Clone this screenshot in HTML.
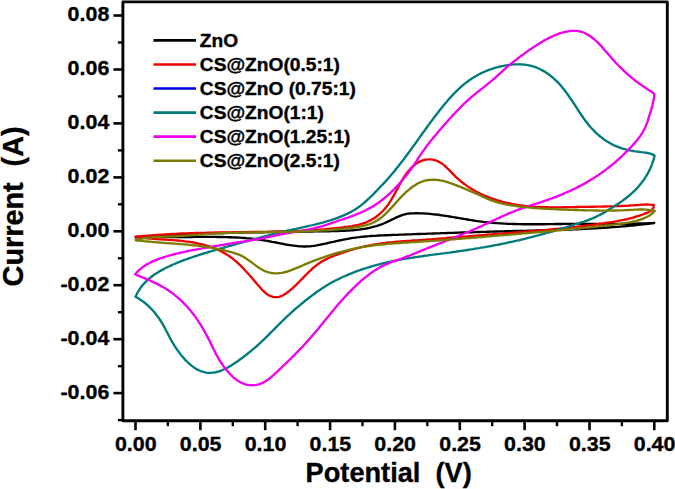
<!DOCTYPE html>
<html><head><meta charset="utf-8"><style>
html,body{margin:0;padding:0;background:#fff;}
svg{display:block;}
text{font-family:"Liberation Sans",sans-serif;font-weight:bold;fill:#000;stroke:#000;stroke-width:0.35px;}
.tl{font-size:21px;}
.lg{font-size:17.5px;}
.ax{font-size:27.2px;}
.ax2{font-size:28.8px;}
</style></head><body>
<svg width="675" height="489" viewBox="0 0 675 489">
<rect x="122.9" y="1.9" width="544.4" height="418.8" fill="none" stroke="#000" stroke-width="2.9" stroke-linejoin="round"/>
<line x1="113.4" y1="393.1" x2="122.9" y2="393.1" stroke="#000" stroke-width="2.6"/>
<text transform="translate(109.3,398.8) scale(1.02,1)" text-anchor="end" class="tl">-0.06</text>
<line x1="113.4" y1="339.2" x2="122.9" y2="339.2" stroke="#000" stroke-width="2.6"/>
<text transform="translate(109.3,344.8) scale(1.02,1)" text-anchor="end" class="tl">-0.04</text>
<line x1="113.4" y1="285.2" x2="122.9" y2="285.2" stroke="#000" stroke-width="2.6"/>
<text transform="translate(109.3,290.9) scale(1.02,1)" text-anchor="end" class="tl">-0.02</text>
<line x1="113.4" y1="231.3" x2="122.9" y2="231.3" stroke="#000" stroke-width="2.6"/>
<text transform="translate(109.3,236.9) scale(1.02,1)" text-anchor="end" class="tl">0.00</text>
<line x1="113.4" y1="177.4" x2="122.9" y2="177.4" stroke="#000" stroke-width="2.6"/>
<text transform="translate(109.3,183.0) scale(1.02,1)" text-anchor="end" class="tl">0.02</text>
<line x1="113.4" y1="123.4" x2="122.9" y2="123.4" stroke="#000" stroke-width="2.6"/>
<text transform="translate(109.3,129.0) scale(1.02,1)" text-anchor="end" class="tl">0.04</text>
<line x1="113.4" y1="69.5" x2="122.9" y2="69.5" stroke="#000" stroke-width="2.6"/>
<text transform="translate(109.3,75.1) scale(1.02,1)" text-anchor="end" class="tl">0.06</text>
<line x1="113.4" y1="15.5" x2="122.9" y2="15.5" stroke="#000" stroke-width="2.6"/>
<text transform="translate(109.3,21.1) scale(1.02,1)" text-anchor="end" class="tl">0.08</text>
<line x1="117.9" y1="420.1" x2="122.9" y2="420.1" stroke="#000" stroke-width="2.4"/>
<line x1="117.9" y1="366.2" x2="122.9" y2="366.2" stroke="#000" stroke-width="2.4"/>
<line x1="117.9" y1="312.2" x2="122.9" y2="312.2" stroke="#000" stroke-width="2.4"/>
<line x1="117.9" y1="258.3" x2="122.9" y2="258.3" stroke="#000" stroke-width="2.4"/>
<line x1="117.9" y1="204.3" x2="122.9" y2="204.3" stroke="#000" stroke-width="2.4"/>
<line x1="117.9" y1="150.4" x2="122.9" y2="150.4" stroke="#000" stroke-width="2.4"/>
<line x1="117.9" y1="96.4" x2="122.9" y2="96.4" stroke="#000" stroke-width="2.4"/>
<line x1="117.9" y1="42.5" x2="122.9" y2="42.5" stroke="#000" stroke-width="2.4"/>
<line x1="135.5" y1="420.7" x2="135.5" y2="430.2" stroke="#000" stroke-width="2.6"/>
<text transform="translate(135.8,451.2) scale(1.02,1)" text-anchor="middle" class="tl">0.00</text>
<line x1="200.4" y1="420.7" x2="200.4" y2="430.2" stroke="#000" stroke-width="2.6"/>
<text transform="translate(200.7,451.2) scale(1.02,1)" text-anchor="middle" class="tl">0.05</text>
<line x1="265.2" y1="420.7" x2="265.2" y2="430.2" stroke="#000" stroke-width="2.6"/>
<text transform="translate(265.5,451.2) scale(1.02,1)" text-anchor="middle" class="tl">0.10</text>
<line x1="330.1" y1="420.7" x2="330.1" y2="430.2" stroke="#000" stroke-width="2.6"/>
<text transform="translate(330.4,451.2) scale(1.02,1)" text-anchor="middle" class="tl">0.15</text>
<line x1="394.9" y1="420.7" x2="394.9" y2="430.2" stroke="#000" stroke-width="2.6"/>
<text transform="translate(395.2,451.2) scale(1.02,1)" text-anchor="middle" class="tl">0.20</text>
<line x1="459.8" y1="420.7" x2="459.8" y2="430.2" stroke="#000" stroke-width="2.6"/>
<text transform="translate(460.1,451.2) scale(1.02,1)" text-anchor="middle" class="tl">0.25</text>
<line x1="524.6" y1="420.7" x2="524.6" y2="430.2" stroke="#000" stroke-width="2.6"/>
<text transform="translate(524.9,451.2) scale(1.02,1)" text-anchor="middle" class="tl">0.30</text>
<line x1="589.5" y1="420.7" x2="589.5" y2="430.2" stroke="#000" stroke-width="2.6"/>
<text transform="translate(589.8,451.2) scale(1.02,1)" text-anchor="middle" class="tl">0.35</text>
<line x1="654.3" y1="420.7" x2="654.3" y2="430.2" stroke="#000" stroke-width="2.6"/>
<text transform="translate(654.6,451.2) scale(1.02,1)" text-anchor="middle" class="tl">0.40</text>
<line x1="167.9" y1="420.7" x2="167.9" y2="426.2" stroke="#000" stroke-width="2.4"/>
<line x1="232.8" y1="420.7" x2="232.8" y2="426.2" stroke="#000" stroke-width="2.4"/>
<line x1="297.6" y1="420.7" x2="297.6" y2="426.2" stroke="#000" stroke-width="2.4"/>
<line x1="362.5" y1="420.7" x2="362.5" y2="426.2" stroke="#000" stroke-width="2.4"/>
<line x1="427.3" y1="420.7" x2="427.3" y2="426.2" stroke="#000" stroke-width="2.4"/>
<line x1="492.2" y1="420.7" x2="492.2" y2="426.2" stroke="#000" stroke-width="2.4"/>
<line x1="557.0" y1="420.7" x2="557.0" y2="426.2" stroke="#000" stroke-width="2.4"/>
<line x1="621.9" y1="420.7" x2="621.9" y2="426.2" stroke="#000" stroke-width="2.4"/>
<path d="M135.6,237.2 L137.6,237.0 L139.6,236.9 L141.6,236.7 L143.6,236.6 L145.6,236.5 L147.6,236.3 L149.7,236.2 L151.7,236.1 L153.7,235.9 L155.7,235.8 L157.7,235.7 L159.7,235.6 L161.7,235.4 L163.7,235.3 L165.7,235.2 L167.7,235.1 L169.7,235.0 L171.7,234.9 L173.7,234.8 L175.7,234.7 L177.7,234.6 L179.8,234.5 L181.8,234.4 L183.8,234.3 L185.8,234.2 L187.8,234.2 L189.8,234.1 L191.8,234.0 L193.8,233.9 L195.8,233.8 L197.8,233.8 L199.8,233.7 L201.8,233.6 L203.8,233.6 L205.8,233.5 L207.8,233.4 L209.8,233.4 L211.9,233.3 L213.9,233.2 L215.9,233.2 L217.9,233.1 L219.9,233.1 L221.9,233.0 L223.9,233.0 L225.9,232.9 L227.9,232.9 L229.9,232.8 L231.9,232.8 L233.9,232.7 L235.9,232.7 L237.9,232.6 L240.0,232.6 L242.0,232.6 L244.0,232.5 L246.0,232.5 L248.0,232.4 L250.0,232.4 L252.0,232.4 L254.0,232.3 L256.0,232.3 L258.0,232.3 L260.0,232.2 L262.0,232.2 L264.1,232.2 L266.1,232.1 L268.1,232.1 L270.1,232.1 L272.1,232.0 L274.1,232.0 L276.1,232.0 L278.1,232.0 L280.1,231.9 L282.1,231.9 L284.2,231.9 L286.2,231.8 L288.2,231.8 L290.2,231.8 L292.2,231.8 L294.2,231.7 L296.2,231.7 L298.2,231.7 L300.3,231.6 L302.3,231.6 L304.3,231.6 L306.3,231.6 L308.3,231.5 L310.3,231.5 L312.3,231.5 L314.3,231.4 L316.4,231.4 L318.4,231.4 L320.4,231.3 L322.4,231.3 L324.4,231.3 L326.4,231.2 L328.5,231.2 L330.5,231.2 L332.5,231.1 L334.5,231.1 L336.5,231.0 L338.5,231.0 L340.5,230.9 L342.6,230.9 L344.6,230.8 L346.6,230.7 L348.6,230.6 L350.6,230.4 L352.6,230.3 L354.6,230.1 L356.5,229.9 L358.5,229.7 L360.5,229.4 L362.5,229.1 L364.4,228.8 L366.4,228.5 L368.3,228.1 L370.3,227.7 L372.2,227.2 L374.1,226.7 L376.0,226.2 L377.9,225.6 L379.8,224.9 L381.7,224.3 L383.6,223.5 L385.4,222.7 L387.3,221.9 L389.1,221.0 L391.0,220.1 L392.8,219.2 L394.6,218.3 L396.5,217.4 L398.3,216.6 L400.2,215.8 L402.1,215.1 L404.0,214.5 L405.9,214.1 L407.8,213.7 L409.8,213.5 L411.8,213.4 L413.8,213.3 L415.8,213.2 L417.8,213.2 L419.7,213.3 L421.7,213.3 L423.7,213.4 L425.7,213.6 L427.7,213.7 L429.7,213.9 L431.7,214.1 L433.7,214.3 L435.7,214.5 L437.7,214.7 L439.7,215.0 L441.7,215.3 L443.7,215.6 L445.6,215.9 L447.6,216.2 L449.6,216.5 L451.6,216.8 L453.6,217.2 L455.6,217.5 L457.6,217.8 L459.6,218.2 L461.6,218.5 L463.6,218.9 L465.6,219.2 L467.5,219.5 L469.5,219.9 L471.5,220.2 L473.5,220.5 L475.5,220.8 L477.5,221.1 L479.5,221.3 L481.5,221.6 L483.5,221.9 L485.5,222.1 L487.5,222.3 L489.5,222.5 L491.5,222.7 L493.5,222.9 L495.5,223.0 L497.5,223.2 L499.5,223.3 L501.5,223.4 L503.5,223.6 L505.5,223.7 L507.5,223.8 L509.5,223.8 L511.5,223.9 L513.5,224.0 L515.5,224.0 L517.6,224.1 L519.6,224.1 L521.6,224.2 L523.6,224.2 L525.6,224.2 L527.6,224.2 L529.6,224.2 L531.6,224.2 L533.6,224.2 L535.6,224.2 L537.6,224.2 L539.6,224.2 L541.7,224.2 L543.7,224.2 L545.7,224.2 L547.7,224.1 L549.7,224.1 L551.7,224.1 L553.7,224.1 L555.7,224.0 L557.7,224.0 L559.8,224.0 L561.8,224.0 L563.8,223.9 L565.8,223.9 L567.8,223.9 L569.8,223.9 L571.8,223.9 L573.8,223.9 L575.8,223.8 L577.8,223.8 L579.9,223.8 L581.9,223.8 L583.9,223.8 L585.9,223.8 L587.9,223.8 L589.9,223.8 L591.9,223.8 L593.9,223.8 L595.9,223.8 L597.9,223.8 L600.0,223.8 L602.0,223.8 L604.0,223.8 L606.0,223.8 L608.0,223.8 L610.0,223.8 L612.0,223.8 L614.0,223.8 L616.0,223.8 L618.0,223.8 L620.0,223.8 L622.1,223.8 L624.1,223.8 L626.1,223.8 L628.1,223.7 L630.1,223.7 L632.1,223.7 L634.1,223.6 L636.1,223.6 L638.1,223.5 L640.1,223.5 L642.1,223.4 L644.2,223.4 L646.2,223.3 L648.2,223.2 L650.2,223.2 L652.2,223.1 L654.2,223.0 L654.2,223.0 L652.2,223.3 L650.2,223.5 L648.2,223.8 L646.2,224.0 L644.2,224.2 L642.2,224.5 L640.2,224.7 L638.2,224.9 L636.2,225.1 L634.2,225.3 L632.2,225.5 L630.2,225.7 L628.2,225.9 L626.2,226.1 L624.2,226.3 L622.2,226.4 L620.2,226.6 L618.2,226.8 L616.2,226.9 L614.2,227.1 L612.2,227.2 L610.2,227.4 L608.2,227.5 L606.2,227.6 L604.2,227.8 L602.2,227.9 L600.2,228.0 L598.2,228.1 L596.2,228.3 L594.2,228.4 L592.1,228.5 L590.1,228.6 L588.1,228.7 L586.1,228.8 L584.1,228.9 L582.1,229.0 L580.1,229.1 L578.1,229.2 L576.1,229.2 L574.1,229.3 L572.1,229.4 L570.1,229.5 L568.1,229.6 L566.0,229.6 L564.0,229.7 L562.0,229.8 L560.0,229.8 L558.0,229.9 L556.0,230.0 L554.0,230.0 L552.0,230.1 L550.0,230.1 L548.0,230.2 L545.9,230.2 L543.9,230.3 L541.9,230.4 L539.9,230.4 L537.9,230.5 L535.9,230.5 L533.9,230.6 L531.9,230.6 L529.9,230.7 L527.9,230.7 L525.8,230.8 L523.8,230.8 L521.8,230.9 L519.8,230.9 L517.8,230.9 L515.8,231.0 L513.8,231.0 L511.8,231.1 L509.8,231.1 L507.8,231.2 L505.7,231.2 L503.7,231.3 L501.7,231.4 L499.7,231.4 L497.7,231.5 L495.7,231.5 L493.7,231.6 L491.7,231.6 L489.7,231.7 L487.7,231.7 L485.6,231.8 L483.6,231.9 L481.6,231.9 L479.6,232.0 L477.6,232.0 L475.6,232.1 L473.6,232.2 L471.6,232.2 L469.6,232.3 L467.6,232.3 L465.6,232.4 L463.6,232.5 L461.5,232.5 L459.5,232.6 L457.5,232.7 L455.5,232.7 L453.5,232.8 L451.5,232.9 L449.5,232.9 L447.5,233.0 L445.5,233.1 L443.5,233.1 L441.5,233.2 L439.5,233.3 L437.4,233.3 L435.4,233.4 L433.4,233.5 L431.4,233.6 L429.4,233.6 L427.4,233.7 L425.4,233.8 L423.4,233.8 L421.4,233.9 L419.4,234.0 L417.4,234.0 L415.3,234.1 L413.3,234.2 L411.3,234.3 L409.3,234.3 L407.3,234.4 L405.3,234.5 L403.3,234.6 L401.3,234.6 L399.3,234.7 L397.3,234.8 L395.2,234.8 L393.2,234.9 L391.2,235.0 L389.2,235.1 L387.2,235.2 L385.2,235.2 L383.2,235.3 L381.2,235.4 L379.2,235.5 L377.2,235.6 L375.2,235.8 L373.1,235.9 L371.1,236.0 L369.1,236.2 L367.1,236.3 L365.1,236.5 L363.1,236.7 L361.2,236.9 L359.2,237.2 L357.2,237.4 L355.2,237.7 L353.2,237.9 L351.2,238.2 L349.2,238.6 L347.3,238.9 L345.3,239.3 L343.3,239.7 L341.3,240.1 L339.4,240.5 L337.4,240.9 L335.4,241.3 L333.4,241.8 L331.5,242.2 L329.5,242.7 L327.5,243.1 L325.5,243.6 L323.5,244.0 L321.6,244.4 L319.6,244.8 L317.6,245.2 L315.6,245.6 L313.6,245.9 L311.6,246.1 L309.6,246.3 L307.6,246.4 L305.6,246.5 L303.7,246.5 L301.7,246.4 L299.7,246.3 L297.7,246.1 L295.7,245.9 L293.8,245.7 L291.8,245.4 L289.8,245.1 L287.8,244.8 L285.8,244.5 L283.9,244.1 L281.9,243.7 L279.9,243.3 L277.9,242.9 L275.9,242.5 L274.0,242.1 L272.0,241.8 L270.0,241.4 L268.0,241.0 L266.0,240.7 L264.0,240.3 L262.0,240.0 L260.1,239.7 L258.1,239.5 L256.1,239.2 L254.1,239.0 L252.1,238.7 L250.1,238.5 L248.1,238.3 L246.1,238.2 L244.1,238.0 L242.1,237.9 L240.1,237.7 L238.1,237.6 L236.1,237.5 L234.1,237.4 L232.1,237.3 L230.1,237.2 L228.1,237.2 L226.1,237.1 L224.1,237.1 L222.1,237.0 L220.1,237.0 L218.1,237.0 L216.0,236.9 L214.0,236.9 L212.0,236.9 L210.0,236.9 L208.0,236.9 L206.0,236.9 L204.0,236.9 L202.0,236.9 L200.0,236.9 L197.9,236.9 L195.9,236.9 L193.9,236.9 L191.9,237.0 L189.9,237.0 L187.9,237.0 L185.9,237.0 L183.9,237.0 L181.8,237.0 L179.8,237.0 L177.8,237.0 L175.8,237.1 L173.8,237.1 L171.8,237.1 L169.8,237.1 L167.8,237.1 L165.7,237.1 L163.7,237.1 L161.7,237.1 L159.7,237.1 L157.7,237.2 L155.7,237.2 L153.7,237.2 L151.7,237.2 L149.7,237.2 L147.6,237.2 L145.6,237.2 L143.6,237.2 L141.6,237.2 L139.6,237.2 L137.6,237.2 L135.6,237.2" fill="none" stroke="#000000" stroke-width="2.35" stroke-linejoin="round" stroke-linecap="round"/>
<path d="M135.6,236.7 L137.6,236.5 L139.6,236.3 L141.6,236.1 L143.6,235.9 L145.6,235.8 L147.6,235.6 L149.6,235.4 L151.6,235.3 L153.6,235.1 L155.6,235.0 L157.6,234.8 L159.6,234.7 L161.6,234.6 L163.6,234.5 L165.6,234.3 L167.6,234.2 L169.6,234.1 L171.6,234.0 L173.6,233.9 L175.6,233.8 L177.6,233.7 L179.6,233.6 L181.6,233.5 L183.6,233.5 L185.7,233.4 L187.7,233.3 L189.7,233.2 L191.7,233.2 L193.7,233.1 L195.7,233.0 L197.7,233.0 L199.7,232.9 L201.7,232.9 L203.7,232.8 L205.7,232.8 L207.7,232.7 L209.8,232.7 L211.8,232.6 L213.8,232.6 L215.8,232.5 L217.8,232.5 L219.8,232.5 L221.8,232.4 L223.8,232.4 L225.8,232.4 L227.8,232.3 L229.8,232.3 L231.9,232.3 L233.9,232.3 L235.9,232.2 L237.9,232.2 L239.9,232.2 L241.9,232.1 L243.9,232.1 L245.9,232.1 L247.9,232.1 L249.9,232.0 L251.9,232.0 L253.9,232.0 L256.0,231.9 L258.0,231.9 L260.0,231.9 L262.0,231.8 L264.0,231.8 L266.0,231.8 L268.0,231.7 L270.0,231.7 L272.0,231.6 L274.0,231.6 L276.0,231.6 L278.0,231.5 L280.0,231.5 L282.0,231.4 L284.0,231.3 L286.0,231.3 L288.0,231.2 L290.0,231.2 L292.0,231.1 L294.0,231.0 L296.0,230.9 L298.0,230.9 L300.0,230.8 L302.0,230.7 L304.1,230.6 L306.1,230.5 L308.1,230.4 L310.1,230.2 L312.1,230.1 L314.1,230.0 L316.1,229.9 L318.1,229.7 L320.1,229.6 L322.1,229.4 L324.1,229.3 L326.1,229.1 L328.1,228.9 L330.1,228.7 L332.1,228.5 L334.1,228.3 L336.1,228.1 L338.1,227.9 L340.1,227.7 L342.1,227.4 L344.1,227.2 L346.2,226.9 L348.2,226.7 L350.2,226.4 L352.2,226.1 L354.1,225.7 L356.1,225.3 L358.1,224.9 L360.0,224.4 L361.9,223.8 L363.8,223.2 L365.7,222.6 L367.5,221.8 L369.3,220.9 L371.1,220.0 L372.8,219.0 L374.5,217.9 L376.2,216.8 L377.8,215.5 L379.4,214.2 L380.9,212.9 L382.3,211.5 L383.7,210.0 L385.0,208.6 L386.3,207.0 L387.5,205.4 L388.7,203.8 L389.8,202.2 L390.8,200.5 L391.8,198.9 L392.8,197.1 L393.8,195.4 L394.8,193.7 L395.7,191.9 L396.6,190.2 L397.6,188.4 L398.5,186.6 L399.5,184.8 L400.5,183.1 L401.5,181.3 L402.5,179.5 L403.6,177.8 L404.8,176.0 L406.0,174.3 L407.2,172.6 L408.5,171.0 L409.9,169.4 L411.3,167.9 L412.7,166.5 L414.3,165.2 L415.8,163.9 L417.5,162.8 L419.2,161.9 L420.9,161.1 L422.8,160.4 L424.6,159.9 L426.6,159.6 L428.5,159.4 L430.5,159.4 L432.5,159.6 L434.4,160.0 L436.2,160.6 L438.0,161.3 L439.7,162.2 L441.4,163.3 L443.0,164.4 L444.5,165.7 L446.0,167.1 L447.5,168.5 L449.0,169.9 L450.5,171.4 L451.9,172.9 L453.4,174.4 L454.8,175.9 L456.3,177.3 L457.8,178.6 L459.3,180.0 L460.9,181.3 L462.4,182.5 L464.0,183.7 L465.6,184.9 L467.2,186.1 L468.8,187.2 L470.5,188.3 L472.2,189.3 L473.9,190.3 L475.6,191.3 L477.4,192.2 L479.2,193.1 L481.0,194.0 L482.8,194.8 L484.6,195.7 L486.5,196.4 L488.3,197.2 L490.2,197.9 L492.1,198.6 L494.0,199.2 L496.0,199.9 L497.9,200.5 L499.8,201.0 L501.8,201.6 L503.7,202.1 L505.7,202.6 L507.6,203.0 L509.6,203.4 L511.6,203.8 L513.6,204.2 L515.5,204.6 L517.5,204.9 L519.5,205.2 L521.5,205.4 L523.5,205.7 L525.5,205.9 L527.5,206.1 L529.4,206.3 L531.4,206.5 L533.4,206.6 L535.4,206.8 L537.4,206.9 L539.4,207.0 L541.4,207.0 L543.4,207.1 L545.4,207.2 L547.5,207.2 L549.5,207.3 L551.5,207.3 L553.5,207.3 L555.5,207.3 L557.5,207.3 L559.5,207.3 L561.5,207.3 L563.5,207.2 L565.5,207.2 L567.6,207.2 L569.6,207.1 L571.6,207.1 L573.6,207.1 L575.6,207.0 L577.6,207.0 L579.6,206.9 L581.6,206.9 L583.6,206.9 L585.7,206.8 L587.7,206.8 L589.7,206.8 L591.7,206.7 L593.7,206.7 L595.7,206.7 L597.7,206.6 L599.7,206.6 L601.7,206.6 L603.7,206.5 L605.7,206.5 L607.7,206.4 L609.7,206.4 L611.7,206.3 L613.7,206.3 L615.7,206.2 L617.7,206.1 L619.7,206.1 L621.8,206.0 L623.8,205.9 L625.8,205.8 L627.8,205.7 L629.8,205.5 L631.8,205.4 L633.8,205.3 L635.8,205.1 L637.8,205.0 L639.8,204.8 L641.8,204.7 L643.8,204.6 L645.8,204.5 L647.8,204.5 L649.8,204.6 L651.8,204.8 L653.8,205.0 L653.8,205.0 L653.7,206.9 L653.0,208.5 L651.8,209.9 L650.3,211.1 L648.6,212.1 L646.7,212.9 L644.8,213.7 L642.8,214.5 L640.9,215.1 L638.9,215.8 L637.0,216.4 L635.0,217.0 L633.1,217.6 L631.1,218.1 L629.2,218.6 L627.2,219.1 L625.2,219.5 L623.3,219.9 L621.3,220.3 L619.3,220.7 L617.4,221.1 L615.4,221.4 L613.4,221.8 L611.4,222.1 L609.5,222.4 L607.5,222.7 L605.5,223.0 L603.5,223.3 L601.5,223.6 L599.6,223.9 L597.6,224.2 L595.6,224.5 L593.6,224.8 L591.6,225.0 L589.6,225.3 L587.6,225.5 L585.6,225.8 L583.6,226.0 L581.7,226.3 L579.7,226.5 L577.7,226.7 L575.7,227.0 L573.7,227.2 L571.7,227.4 L569.7,227.6 L567.7,227.8 L565.7,228.0 L563.7,228.2 L561.7,228.5 L559.7,228.6 L557.6,228.8 L555.6,229.0 L553.6,229.2 L551.6,229.4 L549.6,229.6 L547.6,229.8 L545.6,230.0 L543.6,230.1 L541.6,230.3 L539.6,230.5 L537.6,230.6 L535.6,230.8 L533.6,231.0 L531.6,231.2 L529.5,231.3 L527.5,231.5 L525.5,231.6 L523.5,231.8 L521.5,232.0 L519.5,232.1 L517.5,232.3 L515.5,232.5 L513.5,232.6 L511.5,232.8 L509.5,232.9 L507.5,233.1 L505.4,233.2 L503.4,233.4 L501.4,233.6 L499.4,233.7 L497.4,233.9 L495.4,234.1 L493.4,234.2 L491.4,234.4 L489.4,234.6 L487.4,234.7 L485.4,234.9 L483.4,235.1 L481.4,235.2 L479.4,235.4 L477.4,235.6 L475.4,235.7 L473.4,235.9 L471.4,236.1 L469.4,236.2 L467.4,236.4 L465.4,236.6 L463.4,236.7 L461.4,236.9 L459.4,237.0 L457.4,237.2 L455.4,237.4 L453.4,237.5 L451.4,237.7 L449.4,237.9 L447.4,238.0 L445.4,238.2 L443.4,238.3 L441.4,238.5 L439.4,238.6 L437.4,238.8 L435.4,239.0 L433.4,239.1 L431.3,239.3 L429.3,239.4 L427.3,239.5 L425.3,239.7 L423.3,239.8 L421.3,240.0 L419.3,240.1 L417.3,240.3 L415.3,240.4 L413.2,240.5 L411.2,240.7 L409.2,240.8 L407.2,240.9 L405.2,241.1 L403.2,241.2 L401.2,241.4 L399.2,241.6 L397.2,241.7 L395.1,241.9 L393.1,242.1 L391.1,242.3 L389.1,242.5 L387.1,242.7 L385.1,243.0 L383.1,243.2 L381.1,243.5 L379.2,243.8 L377.2,244.1 L375.2,244.4 L373.2,244.7 L371.2,245.1 L369.3,245.4 L367.3,245.8 L365.3,246.2 L363.4,246.7 L361.4,247.1 L359.5,247.6 L357.5,248.1 L355.6,248.7 L353.7,249.2 L351.7,249.8 L349.8,250.4 L347.9,251.0 L346.0,251.6 L344.1,252.2 L342.2,252.9 L340.3,253.5 L338.4,254.2 L336.5,254.9 L334.7,255.5 L332.8,256.3 L330.9,257.0 L329.1,257.8 L327.2,258.7 L325.4,259.6 L323.6,260.5 L321.9,261.5 L320.2,262.6 L318.6,263.7 L316.9,264.9 L315.4,266.1 L313.8,267.4 L312.3,268.7 L310.9,270.1 L309.4,271.4 L308.0,272.8 L306.6,274.3 L305.1,275.7 L303.7,277.1 L302.3,278.6 L300.9,280.0 L299.5,281.5 L298.1,282.9 L296.7,284.3 L295.2,285.7 L293.7,287.1 L292.2,288.5 L290.7,289.8 L289.1,291.1 L287.5,292.3 L285.9,293.5 L284.2,294.6 L282.5,295.6 L280.6,296.4 L278.7,296.9 L276.7,297.2 L274.7,297.1 L272.7,296.8 L270.8,296.2 L269.0,295.4 L267.4,294.4 L265.8,293.2 L264.3,291.9 L262.9,290.5 L261.5,289.0 L260.2,287.5 L258.8,286.0 L257.5,284.5 L256.2,282.9 L254.8,281.4 L253.5,279.8 L252.2,278.3 L250.9,276.7 L249.5,275.2 L248.2,273.7 L246.8,272.2 L245.4,270.7 L244.1,269.2 L242.7,267.7 L241.3,266.3 L239.8,264.9 L238.4,263.5 L236.9,262.2 L235.4,260.9 L233.9,259.6 L232.3,258.4 L230.7,257.2 L229.1,256.0 L227.5,254.9 L225.8,253.9 L224.1,252.9 L222.3,251.9 L220.5,251.0 L218.7,250.1 L216.9,249.3 L215.0,248.5 L213.2,247.8 L211.3,247.1 L209.3,246.5 L207.4,245.9 L205.4,245.3 L203.5,244.7 L201.5,244.2 L199.5,243.8 L197.5,243.3 L195.5,242.9 L193.5,242.5 L191.5,242.2 L189.5,241.9 L187.5,241.6 L185.5,241.4 L183.5,241.1 L181.5,240.9 L179.5,240.7 L177.5,240.5 L175.6,240.4 L173.6,240.2 L171.6,240.1 L169.6,239.9 L167.6,239.8 L165.6,239.7 L163.6,239.6 L161.6,239.4 L159.6,239.3 L157.6,239.2 L155.6,239.0 L153.6,238.9 L151.6,238.7 L149.6,238.6 L147.6,238.4 L145.6,238.1 L143.6,237.9 L141.6,237.6 L139.6,237.4 L137.6,237.0 L135.6,236.7" fill="none" stroke="#ee0000" stroke-width="2.35" stroke-linejoin="round" stroke-linecap="round"/>
<path d="M135.5,296.8 L136.4,294.9 L137.3,293.1 L138.3,291.3 L139.4,289.6 L140.5,287.9 L141.7,286.3 L143.0,284.8 L144.3,283.3 L145.7,281.9 L147.1,280.5 L148.5,279.2 L150.1,277.9 L151.6,276.7 L153.2,275.5 L154.8,274.3 L156.5,273.2 L158.2,272.2 L159.9,271.1 L161.7,270.1 L163.5,269.2 L165.3,268.3 L167.1,267.3 L168.9,266.5 L170.8,265.6 L172.6,264.8 L174.5,264.0 L176.4,263.2 L178.3,262.4 L180.1,261.7 L182.0,260.9 L183.9,260.2 L185.8,259.5 L187.7,258.8 L189.6,258.1 L191.5,257.5 L193.4,256.8 L195.3,256.2 L197.2,255.6 L199.1,254.9 L201.0,254.3 L202.9,253.7 L204.8,253.1 L206.7,252.6 L208.7,252.0 L210.6,251.4 L212.5,250.8 L214.4,250.3 L216.3,249.7 L218.3,249.2 L220.2,248.6 L222.1,248.1 L224.1,247.5 L226.0,247.0 L227.9,246.4 L229.9,245.9 L231.8,245.3 L233.7,244.8 L235.7,244.2 L237.6,243.7 L239.5,243.1 L241.5,242.6 L243.4,242.1 L245.3,241.5 L247.3,241.0 L249.2,240.5 L251.2,239.9 L253.1,239.4 L255.1,238.9 L257.0,238.3 L258.9,237.8 L260.9,237.3 L262.8,236.8 L264.8,236.3 L266.7,235.8 L268.7,235.3 L270.6,234.8 L272.6,234.3 L274.5,233.8 L276.5,233.3 L278.4,232.9 L280.4,232.4 L282.4,231.9 L284.3,231.4 L286.3,231.0 L288.2,230.5 L290.2,230.1 L292.1,229.6 L294.1,229.2 L296.1,228.8 L298.0,228.3 L300.0,227.9 L302.0,227.5 L303.9,227.1 L305.9,226.6 L307.8,226.2 L309.8,225.7 L311.7,225.3 L313.7,224.8 L315.6,224.4 L317.6,223.9 L319.5,223.4 L321.5,222.9 L323.4,222.4 L325.3,221.8 L327.3,221.2 L329.2,220.7 L331.1,220.1 L333.0,219.4 L334.9,218.8 L336.8,218.1 L338.7,217.4 L340.6,216.7 L342.5,215.9 L344.4,215.1 L346.2,214.3 L348.0,213.4 L349.8,212.5 L351.6,211.5 L353.3,210.5 L355.0,209.5 L356.7,208.4 L358.4,207.3 L360.0,206.1 L361.6,204.9 L363.1,203.6 L364.6,202.3 L366.1,201.0 L367.6,199.7 L369.1,198.3 L370.5,196.9 L372.0,195.5 L373.4,194.1 L374.8,192.6 L376.2,191.2 L377.6,189.7 L379.0,188.3 L380.4,186.8 L381.8,185.3 L383.2,183.9 L384.6,182.4 L385.9,180.9 L387.3,179.4 L388.6,177.9 L389.9,176.4 L391.3,174.8 L392.6,173.3 L393.9,171.7 L395.1,170.2 L396.4,168.6 L397.7,167.1 L398.9,165.5 L400.1,163.9 L401.4,162.3 L402.6,160.8 L403.8,159.2 L405.0,157.6 L406.2,156.0 L407.4,154.3 L408.6,152.7 L409.8,151.1 L411.0,149.5 L412.1,147.9 L413.3,146.3 L414.5,144.6 L415.6,143.0 L416.8,141.4 L418.0,139.7 L419.1,138.1 L420.3,136.5 L421.5,134.8 L422.6,133.2 L423.8,131.6 L425.0,130.0 L426.2,128.3 L427.3,126.7 L428.5,125.1 L429.7,123.4 L430.9,121.8 L432.1,120.2 L433.3,118.6 L434.5,117.0 L435.7,115.4 L437.0,113.8 L438.2,112.2 L439.5,110.6 L440.7,109.0 L442.0,107.4 L443.3,105.8 L444.5,104.3 L445.8,102.7 L447.2,101.2 L448.5,99.6 L449.8,98.1 L451.2,96.6 L452.6,95.1 L454.0,93.7 L455.4,92.2 L456.8,90.8 L458.2,89.4 L459.7,88.1 L461.2,86.7 L462.7,85.4 L464.2,84.1 L465.8,82.9 L467.4,81.7 L469.0,80.5 L470.6,79.3 L472.3,78.2 L473.9,77.2 L475.6,76.2 L477.4,75.2 L479.1,74.3 L480.9,73.4 L482.7,72.5 L484.5,71.7 L486.4,70.9 L488.3,70.2 L490.1,69.5 L492.1,68.8 L494.0,68.2 L495.9,67.7 L497.9,67.1 L499.9,66.6 L501.8,66.2 L503.8,65.8 L505.9,65.4 L507.9,65.1 L509.9,64.8 L511.9,64.6 L514.0,64.4 L516.0,64.3 L518.0,64.3 L520.0,64.3 L522.0,64.4 L524.0,64.6 L526.0,64.8 L528.0,65.2 L529.9,65.6 L531.8,66.0 L533.7,66.6 L535.6,67.2 L537.5,68.0 L539.3,68.8 L541.1,69.7 L542.8,70.6 L544.6,71.6 L546.3,72.7 L547.9,73.8 L549.6,75.0 L551.2,76.3 L552.7,77.6 L554.2,78.9 L555.7,80.3 L557.2,81.7 L558.6,83.1 L559.9,84.6 L561.2,86.1 L562.5,87.7 L563.8,89.2 L565.0,90.8 L566.2,92.4 L567.4,94.0 L568.6,95.7 L569.7,97.3 L570.8,99.0 L572.0,100.7 L573.1,102.4 L574.2,104.0 L575.3,105.7 L576.4,107.4 L577.5,109.1 L578.6,110.8 L579.7,112.5 L580.8,114.1 L581.9,115.8 L583.1,117.5 L584.2,119.1 L585.4,120.7 L586.6,122.3 L587.9,123.9 L589.1,125.4 L590.4,127.0 L591.8,128.5 L593.2,129.9 L594.6,131.4 L596.0,132.8 L597.5,134.2 L599.0,135.5 L600.6,136.8 L602.2,138.0 L603.8,139.2 L605.5,140.4 L607.2,141.5 L608.9,142.5 L610.6,143.5 L612.4,144.5 L614.2,145.4 L616.0,146.2 L617.9,146.9 L619.8,147.6 L621.7,148.3 L623.6,148.8 L625.5,149.4 L627.5,149.8 L629.5,150.3 L631.4,150.7 L633.4,151.0 L635.4,151.4 L637.4,151.6 L639.4,151.9 L641.4,152.2 L643.4,152.4 L645.4,152.7 L647.4,153.0 L649.3,153.4 L651.2,153.9 L652.9,154.6 L654.6,155.5 L654.6,155.5 L654.1,157.5 L653.6,159.4 L653.0,161.3 L652.4,163.2 L651.7,165.1 L650.9,167.0 L650.1,168.8 L649.2,170.6 L648.3,172.4 L647.3,174.2 L646.3,175.9 L645.2,177.6 L644.1,179.3 L643.0,180.9 L641.8,182.6 L640.5,184.1 L639.2,185.7 L637.9,187.2 L636.6,188.7 L635.2,190.1 L633.7,191.5 L632.3,192.9 L630.8,194.2 L629.3,195.5 L627.7,196.8 L626.1,198.0 L624.5,199.2 L622.9,200.4 L621.3,201.6 L619.6,202.8 L617.9,203.9 L616.3,205.0 L614.6,206.1 L612.9,207.2 L611.2,208.2 L609.4,209.3 L607.7,210.3 L606.0,211.4 L604.3,212.4 L602.5,213.4 L600.8,214.4 L599.0,215.3 L597.2,216.2 L595.4,217.1 L593.6,217.9 L591.8,218.7 L589.9,219.4 L588.1,220.2 L586.2,220.8 L584.3,221.5 L582.4,222.1 L580.5,222.7 L578.6,223.3 L576.6,223.9 L574.7,224.5 L572.8,225.1 L570.9,225.7 L568.9,226.3 L567.0,226.9 L565.1,227.5 L563.2,228.1 L561.2,228.7 L559.3,229.3 L557.4,229.8 L555.5,230.4 L553.5,231.0 L551.6,231.6 L549.7,232.1 L547.7,232.7 L545.8,233.2 L543.9,233.8 L541.9,234.3 L540.0,234.9 L538.1,235.4 L536.1,235.9 L534.2,236.4 L532.2,236.9 L530.3,237.4 L528.3,237.9 L526.4,238.4 L524.4,238.9 L522.5,239.3 L520.5,239.8 L518.6,240.3 L516.6,240.7 L514.7,241.1 L512.7,241.6 L510.7,242.0 L508.8,242.4 L506.8,242.9 L504.8,243.3 L502.9,243.7 L500.9,244.1 L498.9,244.5 L497.0,244.8 L495.0,245.2 L493.0,245.6 L491.0,246.0 L489.1,246.3 L487.1,246.7 L485.1,247.1 L483.1,247.4 L481.2,247.7 L479.2,248.1 L477.2,248.4 L475.2,248.7 L473.2,249.1 L471.2,249.4 L469.2,249.7 L467.3,250.0 L465.3,250.3 L463.3,250.6 L461.3,250.9 L459.3,251.2 L457.3,251.5 L455.3,251.8 L453.3,252.0 L451.3,252.3 L449.3,252.6 L447.3,252.8 L445.4,253.1 L443.4,253.4 L441.4,253.6 L439.4,253.9 L437.4,254.1 L435.4,254.4 L433.4,254.7 L431.4,254.9 L429.4,255.2 L427.4,255.5 L425.4,255.7 L423.4,256.0 L421.4,256.3 L419.4,256.6 L417.4,256.9 L415.5,257.2 L413.5,257.5 L411.5,257.8 L409.5,258.1 L407.5,258.4 L405.5,258.7 L403.6,259.1 L401.6,259.4 L399.6,259.8 L397.6,260.2 L395.7,260.6 L393.7,261.0 L391.7,261.4 L389.8,261.8 L387.8,262.2 L385.8,262.7 L383.9,263.1 L381.9,263.6 L380.0,264.1 L378.0,264.6 L376.1,265.1 L374.2,265.7 L372.2,266.2 L370.3,266.8 L368.4,267.4 L366.5,268.0 L364.6,268.6 L362.7,269.2 L360.7,269.9 L358.9,270.5 L357.0,271.2 L355.1,271.9 L353.2,272.6 L351.3,273.4 L349.5,274.1 L347.6,274.9 L345.8,275.7 L343.9,276.5 L342.1,277.3 L340.3,278.2 L338.4,279.1 L336.6,280.0 L334.8,280.9 L333.1,281.8 L331.3,282.8 L329.5,283.8 L327.8,284.8 L326.1,285.8 L324.4,286.9 L322.7,288.0 L321.0,289.1 L319.4,290.2 L317.7,291.3 L316.1,292.5 L314.5,293.7 L312.9,294.9 L311.3,296.1 L309.7,297.3 L308.1,298.5 L306.5,299.7 L304.9,301.0 L303.4,302.3 L301.8,303.5 L300.3,304.8 L298.7,306.1 L297.2,307.4 L295.7,308.7 L294.2,310.0 L292.7,311.4 L291.2,312.7 L289.7,314.1 L288.2,315.4 L286.7,316.8 L285.3,318.2 L283.8,319.6 L282.4,321.0 L280.9,322.4 L279.5,323.8 L278.1,325.3 L276.7,326.7 L275.2,328.1 L273.8,329.6 L272.4,331.0 L271.0,332.4 L269.6,333.9 L268.1,335.3 L266.7,336.7 L265.3,338.1 L263.8,339.5 L262.4,340.9 L260.9,342.2 L259.5,343.6 L258.0,344.9 L256.5,346.3 L255.0,347.6 L253.5,348.9 L252.0,350.2 L250.5,351.4 L248.9,352.7 L247.3,354.0 L245.8,355.2 L244.2,356.4 L242.6,357.6 L241.0,358.8 L239.3,360.0 L237.7,361.2 L236.0,362.3 L234.3,363.5 L232.6,364.6 L230.9,365.7 L229.1,366.7 L227.4,367.7 L225.6,368.7 L223.7,369.5 L221.9,370.3 L220.0,371.0 L218.0,371.6 L216.1,372.1 L214.1,372.5 L212.1,372.7 L210.2,372.8 L208.2,372.8 L206.3,372.6 L204.4,372.2 L202.5,371.7 L200.7,371.1 L198.9,370.3 L197.2,369.4 L195.5,368.4 L193.8,367.3 L192.2,366.1 L190.6,364.8 L189.0,363.5 L187.5,362.0 L186.0,360.6 L184.6,359.1 L183.3,357.5 L181.9,355.9 L180.6,354.4 L179.4,352.8 L178.2,351.1 L177.0,349.5 L175.9,347.9 L174.8,346.2 L173.8,344.5 L172.7,342.8 L171.7,341.1 L170.8,339.3 L169.8,337.6 L168.9,335.8 L168.0,334.0 L167.1,332.3 L166.1,330.5 L165.2,328.7 L164.2,326.9 L163.3,325.2 L162.2,323.4 L161.2,321.7 L160.1,320.0 L159.0,318.3 L157.8,316.7 L156.6,315.1 L155.4,313.5 L154.1,312.0 L152.8,310.5 L151.4,309.0 L150.0,307.6 L148.6,306.2 L147.1,304.8 L145.6,303.5 L144.0,302.3 L142.4,301.1 L140.7,299.9 L139.0,298.8 L137.3,297.8 L135.5,296.8" fill="none" stroke="#007b7b" stroke-width="2.35" stroke-linejoin="round" stroke-linecap="round"/>
<path d="M135.1,274.3 L136.5,272.8 L137.9,271.3 L139.3,269.9 L140.9,268.6 L142.4,267.4 L144.1,266.2 L145.7,265.1 L147.4,264.1 L149.2,263.2 L150.9,262.2 L152.8,261.4 L154.6,260.6 L156.4,259.8 L158.3,259.1 L160.2,258.4 L162.1,257.8 L164.0,257.1 L166.0,256.6 L167.9,256.0 L169.8,255.4 L171.8,254.9 L173.7,254.4 L175.7,253.9 L177.6,253.4 L179.6,252.9 L181.5,252.5 L183.5,252.1 L185.5,251.6 L187.4,251.2 L189.4,250.8 L191.3,250.4 L193.3,250.0 L195.3,249.7 L197.3,249.3 L199.2,248.9 L201.2,248.6 L203.2,248.2 L205.1,247.9 L207.1,247.5 L209.1,247.2 L211.1,246.8 L213.0,246.5 L215.0,246.1 L217.0,245.8 L219.0,245.5 L221.0,245.1 L222.9,244.8 L224.9,244.5 L226.9,244.1 L228.9,243.8 L230.9,243.5 L232.9,243.2 L234.8,242.9 L236.8,242.5 L238.8,242.2 L240.8,241.9 L242.8,241.6 L244.8,241.3 L246.7,240.9 L248.7,240.6 L250.7,240.3 L252.7,240.0 L254.6,239.6 L256.6,239.3 L258.6,239.0 L260.6,238.6 L262.5,238.2 L264.5,237.8 L266.5,237.4 L268.4,237.0 L270.4,236.6 L272.4,236.2 L274.3,235.8 L276.3,235.4 L278.2,234.9 L280.2,234.5 L282.2,234.2 L284.2,233.8 L286.1,233.4 L288.1,233.1 L290.1,232.8 L292.1,232.4 L294.1,232.1 L296.0,231.8 L298.0,231.4 L300.0,231.1 L302.0,230.8 L304.0,230.4 L305.9,230.0 L307.9,229.6 L309.9,229.2 L311.8,228.8 L313.8,228.4 L315.7,227.9 L317.7,227.4 L319.6,226.9 L321.5,226.4 L323.4,225.8 L325.3,225.2 L327.2,224.6 L329.1,223.9 L331.0,223.3 L332.9,222.6 L334.8,222.0 L336.7,221.3 L338.6,220.7 L340.6,220.0 L342.5,219.4 L344.4,218.8 L346.3,218.1 L348.2,217.5 L350.1,216.8 L351.9,216.1 L353.8,215.4 L355.7,214.7 L357.5,213.9 L359.4,213.2 L361.2,212.4 L363.1,211.5 L364.9,210.7 L366.7,209.8 L368.4,208.8 L370.2,207.9 L371.9,206.9 L373.6,205.9 L375.3,204.8 L377.0,203.7 L378.7,202.6 L380.3,201.4 L381.9,200.2 L383.5,198.9 L385.0,197.7 L386.5,196.4 L388.0,195.0 L389.5,193.7 L391.0,192.3 L392.4,190.9 L393.9,189.5 L395.3,188.0 L396.6,186.6 L398.0,185.1 L399.4,183.6 L400.7,182.1 L402.0,180.6 L403.3,179.1 L404.6,177.5 L405.8,176.0 L407.1,174.4 L408.3,172.8 L409.5,171.2 L410.7,169.6 L411.8,167.9 L413.0,166.3 L414.1,164.6 L415.2,162.9 L416.3,161.3 L417.4,159.6 L418.5,157.9 L419.6,156.2 L420.7,154.6 L421.9,152.9 L423.0,151.2 L424.2,149.6 L425.3,148.0 L426.5,146.4 L427.7,144.8 L429.0,143.2 L430.2,141.6 L431.5,140.1 L432.7,138.5 L434.0,136.9 L435.3,135.4 L436.6,133.9 L437.9,132.3 L439.2,130.8 L440.5,129.3 L441.8,127.8 L443.1,126.2 L444.4,124.7 L445.7,123.2 L447.1,121.7 L448.4,120.2 L449.7,118.7 L451.1,117.2 L452.4,115.7 L453.8,114.3 L455.2,112.8 L456.6,111.3 L458.0,109.9 L459.4,108.5 L460.8,107.0 L462.2,105.6 L463.6,104.2 L465.1,102.8 L466.6,101.5 L468.0,100.1 L469.5,98.8 L471.0,97.4 L472.5,96.1 L474.1,94.8 L475.6,93.6 L477.2,92.3 L478.8,91.1 L480.3,89.8 L481.9,88.6 L483.5,87.4 L485.1,86.1 L486.6,84.9 L488.2,83.6 L489.7,82.4 L491.3,81.1 L492.8,79.8 L494.3,78.5 L495.8,77.1 L497.3,75.8 L498.8,74.4 L500.3,73.1 L501.8,71.8 L503.2,70.4 L504.7,69.1 L506.2,67.8 L507.8,66.4 L509.3,65.1 L510.9,63.9 L512.4,62.6 L514.0,61.4 L515.6,60.1 L517.2,58.9 L518.8,57.7 L520.4,56.5 L522.1,55.3 L523.7,54.1 L525.3,52.9 L526.9,51.8 L528.5,50.6 L530.1,49.5 L531.8,48.4 L533.4,47.3 L535.1,46.2 L536.7,45.1 L538.4,44.0 L540.1,43.0 L541.8,41.9 L543.5,40.9 L545.3,39.9 L547.1,39.0 L548.9,38.1 L550.7,37.1 L552.6,36.3 L554.5,35.4 L556.4,34.6 L558.4,33.9 L560.3,33.2 L562.3,32.6 L564.3,32.1 L566.2,31.6 L568.2,31.3 L570.2,31.0 L572.1,30.9 L574.1,30.8 L576.0,30.9 L577.9,31.1 L579.8,31.4 L581.6,31.9 L583.4,32.5 L585.2,33.3 L587.0,34.2 L588.7,35.2 L590.4,36.3 L592.0,37.5 L593.6,38.7 L595.2,40.1 L596.7,41.5 L598.2,42.9 L599.6,44.4 L601.0,45.9 L602.4,47.4 L603.7,48.9 L605.0,50.5 L606.3,52.0 L607.7,53.6 L609.0,55.1 L610.3,56.6 L611.6,58.1 L613.0,59.6 L614.3,61.1 L615.7,62.6 L617.1,64.0 L618.5,65.5 L619.9,66.9 L621.3,68.3 L622.7,69.7 L624.2,71.1 L625.6,72.4 L627.1,73.8 L628.6,75.1 L630.1,76.4 L631.6,77.7 L633.2,78.9 L634.7,80.2 L636.3,81.4 L637.9,82.6 L639.6,83.7 L641.2,84.9 L642.9,86.0 L644.5,87.1 L646.2,88.3 L647.9,89.4 L649.5,90.5 L651.2,91.6 L652.8,92.8 L654.3,94.0 L654.3,94.0 L654.2,96.0 L654.0,98.0 L653.6,100.0 L653.2,101.9 L652.8,103.9 L652.3,105.8 L651.7,107.7 L651.2,109.7 L650.6,111.6 L650.0,113.6 L649.4,115.5 L648.8,117.4 L648.2,119.4 L647.6,121.3 L646.9,123.2 L646.1,125.1 L645.4,126.9 L644.5,128.8 L643.6,130.5 L642.6,132.3 L641.6,134.0 L640.5,135.6 L639.3,137.2 L638.1,138.8 L636.9,140.4 L635.6,141.9 L634.3,143.4 L632.9,144.9 L631.6,146.4 L630.2,147.9 L628.8,149.3 L627.4,150.8 L625.9,152.2 L624.5,153.6 L623.1,155.0 L621.6,156.4 L620.1,157.8 L618.6,159.2 L617.1,160.5 L615.6,161.8 L614.1,163.1 L612.6,164.4 L611.0,165.7 L609.4,167.0 L607.8,168.2 L606.3,169.4 L604.6,170.6 L603.0,171.8 L601.4,173.0 L599.7,174.1 L598.1,175.2 L596.4,176.3 L594.7,177.4 L593.0,178.5 L591.3,179.5 L589.6,180.6 L587.9,181.6 L586.2,182.6 L584.4,183.6 L582.6,184.6 L580.9,185.5 L579.1,186.4 L577.3,187.4 L575.5,188.3 L573.7,189.1 L571.9,190.0 L570.1,190.9 L568.2,191.7 L566.4,192.5 L564.6,193.3 L562.7,194.1 L560.8,194.9 L559.0,195.6 L557.1,196.4 L555.2,197.1 L553.3,197.8 L551.4,198.5 L549.6,199.2 L547.7,199.9 L545.8,200.5 L543.8,201.2 L541.9,201.8 L540.0,202.5 L538.1,203.1 L536.2,203.7 L534.3,204.3 L532.4,204.9 L530.5,205.5 L528.6,206.2 L526.7,206.8 L524.8,207.4 L522.9,208.1 L521.0,208.7 L519.1,209.4 L517.2,210.1 L515.3,210.8 L513.5,211.6 L511.6,212.3 L509.7,213.1 L507.9,213.9 L506.1,214.7 L504.2,215.5 L502.4,216.3 L500.6,217.1 L498.7,218.0 L496.9,218.8 L495.1,219.7 L493.3,220.5 L491.4,221.4 L489.6,222.3 L487.8,223.1 L486.0,224.0 L484.1,224.8 L482.3,225.7 L480.5,226.5 L478.6,227.3 L476.8,228.2 L475.0,229.0 L473.1,229.8 L471.3,230.6 L469.4,231.4 L467.6,232.2 L465.7,232.9 L463.9,233.7 L462.0,234.5 L460.2,235.2 L458.3,236.0 L456.4,236.8 L454.6,237.5 L452.7,238.3 L450.8,239.0 L449.0,239.8 L447.1,240.5 L445.2,241.2 L443.4,242.0 L441.5,242.7 L439.6,243.4 L437.8,244.2 L435.9,244.9 L434.0,245.7 L432.2,246.4 L430.3,247.1 L428.4,247.9 L426.5,248.6 L424.7,249.4 L422.8,250.1 L421.0,250.9 L419.1,251.7 L417.2,252.4 L415.4,253.2 L413.5,254.0 L411.6,254.7 L409.8,255.5 L407.9,256.2 L406.0,256.9 L404.2,257.6 L402.3,258.3 L400.4,259.0 L398.5,259.7 L396.6,260.3 L394.7,261.0 L392.8,261.7 L390.9,262.4 L389.0,263.1 L387.2,263.9 L385.3,264.6 L383.5,265.5 L381.7,266.4 L379.9,267.3 L378.2,268.3 L376.5,269.4 L374.8,270.4 L373.1,271.6 L371.4,272.7 L369.8,273.9 L368.2,275.1 L366.6,276.4 L365.0,277.6 L363.5,278.9 L361.9,280.2 L360.4,281.5 L358.9,282.9 L357.4,284.2 L356.0,285.6 L354.5,287.0 L353.1,288.4 L351.7,289.8 L350.3,291.2 L348.9,292.6 L347.5,294.1 L346.1,295.6 L344.8,297.0 L343.4,298.5 L342.1,300.0 L340.8,301.5 L339.4,303.1 L338.1,304.6 L336.8,306.1 L335.5,307.6 L334.2,309.2 L332.9,310.7 L331.6,312.3 L330.4,313.8 L329.1,315.4 L327.8,317.0 L326.5,318.5 L325.3,320.1 L324.0,321.6 L322.7,323.2 L321.4,324.8 L320.1,326.3 L318.9,327.9 L317.6,329.4 L316.3,331.0 L315.0,332.5 L313.7,334.0 L312.4,335.6 L311.1,337.1 L309.8,338.6 L308.4,340.1 L307.1,341.6 L305.8,343.1 L304.4,344.5 L303.1,346.0 L301.7,347.5 L300.3,348.9 L298.9,350.4 L297.5,351.8 L296.1,353.2 L294.7,354.7 L293.3,356.1 L291.9,357.5 L290.5,358.9 L289.0,360.3 L287.6,361.7 L286.1,363.1 L284.7,364.5 L283.2,365.9 L281.8,367.3 L280.3,368.7 L278.8,370.1 L277.3,371.5 L275.8,372.9 L274.3,374.3 L272.8,375.7 L271.3,377.0 L269.7,378.3 L268.2,379.5 L266.5,380.6 L264.8,381.7 L263.1,382.6 L261.3,383.4 L259.5,384.1 L257.5,384.6 L255.6,385.0 L253.5,385.2 L251.5,385.2 L249.5,385.1 L247.4,384.8 L245.5,384.3 L243.6,383.7 L241.7,382.9 L239.9,382.0 L238.2,381.0 L236.6,379.9 L235.0,378.6 L233.4,377.3 L231.9,375.9 L230.5,374.5 L229.1,373.0 L227.8,371.5 L226.5,370.0 L225.2,368.4 L224.0,366.8 L222.8,365.2 L221.7,363.5 L220.6,361.8 L219.5,360.1 L218.5,358.4 L217.5,356.6 L216.5,354.9 L215.6,353.1 L214.7,351.3 L213.8,349.5 L212.9,347.7 L212.0,345.9 L211.1,344.1 L210.2,342.3 L209.3,340.5 L208.4,338.7 L207.5,336.9 L206.6,335.2 L205.6,333.4 L204.6,331.6 L203.7,329.9 L202.7,328.1 L201.6,326.4 L200.6,324.7 L199.5,323.0 L198.4,321.3 L197.3,319.7 L196.2,318.0 L195.0,316.4 L193.8,314.8 L192.6,313.2 L191.3,311.6 L190.0,310.1 L188.7,308.5 L187.4,307.0 L186.0,305.5 L184.6,304.1 L183.2,302.6 L181.8,301.2 L180.3,299.9 L178.8,298.5 L177.3,297.2 L175.7,295.9 L174.2,294.6 L172.6,293.4 L171.0,292.2 L169.3,291.1 L167.7,289.9 L166.0,288.8 L164.3,287.8 L162.5,286.8 L160.8,285.8 L159.0,284.9 L157.2,283.9 L155.4,283.1 L153.6,282.2 L151.8,281.4 L149.9,280.5 L148.1,279.7 L146.2,278.9 L144.4,278.2 L142.5,277.4 L140.7,276.6 L138.8,275.8 L136.9,275.1 L135.1,274.3" fill="none" stroke="#f000f0" stroke-width="2.35" stroke-linejoin="round" stroke-linecap="round"/>
<path d="M135.6,240.2 L137.6,239.7 L139.5,239.2 L141.5,238.8 L143.4,238.4 L145.4,238.1 L147.4,237.8 L149.4,237.6 L151.4,237.4 L153.4,237.2 L155.4,237.1 L157.4,237.0 L159.4,236.9 L161.4,236.8 L163.4,236.7 L165.4,236.6 L167.4,236.6 L169.5,236.5 L171.5,236.4 L173.5,236.3 L175.5,236.3 L177.5,236.2 L179.5,236.1 L181.5,235.9 L183.5,235.8 L185.5,235.7 L187.6,235.5 L189.6,235.4 L191.6,235.2 L193.6,235.1 L195.6,234.9 L197.6,234.8 L199.6,234.6 L201.6,234.5 L203.6,234.3 L205.6,234.2 L207.6,234.1 L209.6,233.9 L211.7,233.8 L213.7,233.7 L215.7,233.6 L217.7,233.4 L219.7,233.3 L221.7,233.2 L223.7,233.2 L225.7,233.1 L227.7,233.0 L229.7,232.9 L231.7,232.8 L233.7,232.8 L235.8,232.7 L237.8,232.7 L239.8,232.6 L241.8,232.6 L243.8,232.5 L245.8,232.5 L247.8,232.4 L249.8,232.4 L251.8,232.4 L253.8,232.3 L255.9,232.3 L257.9,232.3 L259.9,232.2 L261.9,232.2 L263.9,232.2 L265.9,232.1 L267.9,232.1 L269.9,232.1 L271.9,232.1 L273.9,232.0 L275.9,232.0 L278.0,232.0 L280.0,231.9 L282.0,231.9 L284.0,231.9 L286.0,231.8 L288.0,231.8 L290.0,231.7 L292.0,231.7 L294.0,231.6 L296.0,231.6 L298.1,231.5 L300.1,231.5 L302.1,231.4 L304.1,231.4 L306.1,231.3 L308.1,231.2 L310.1,231.1 L312.1,231.0 L314.1,230.9 L316.1,230.8 L318.2,230.7 L320.2,230.6 L322.2,230.5 L324.2,230.4 L326.2,230.3 L328.2,230.1 L330.2,230.0 L332.2,229.8 L334.2,229.7 L336.2,229.5 L338.2,229.3 L340.3,229.1 L342.3,228.9 L344.3,228.7 L346.3,228.5 L348.3,228.3 L350.3,228.0 L352.3,227.8 L354.3,227.5 L356.3,227.2 L358.3,226.9 L360.3,226.6 L362.2,226.2 L364.2,225.7 L366.1,225.2 L368.0,224.6 L369.9,224.0 L371.7,223.3 L373.5,222.5 L375.3,221.6 L377.0,220.6 L378.7,219.5 L380.3,218.3 L381.9,217.1 L383.5,215.7 L385.0,214.3 L386.5,212.9 L388.0,211.4 L389.4,209.9 L390.8,208.4 L392.2,206.9 L393.5,205.4 L394.8,203.9 L396.1,202.4 L397.5,201.0 L398.8,199.5 L400.1,198.1 L401.5,196.6 L402.8,195.2 L404.3,193.8 L405.7,192.4 L407.2,191.1 L408.7,189.8 L410.3,188.5 L412.0,187.2 L413.7,186.0 L415.5,184.9 L417.2,183.8 L419.1,182.9 L420.9,182.0 L422.8,181.3 L424.7,180.7 L426.6,180.3 L428.5,180.0 L430.4,179.8 L432.3,179.7 L434.3,179.7 L436.2,179.8 L438.2,180.0 L440.1,180.4 L442.1,180.7 L444.1,181.2 L446.0,181.7 L448.0,182.3 L449.9,183.0 L451.9,183.6 L453.8,184.4 L455.8,185.1 L457.7,185.9 L459.6,186.7 L461.5,187.4 L463.4,188.2 L465.3,189.0 L467.1,189.8 L469.0,190.6 L470.8,191.3 L472.6,192.1 L474.4,192.8 L476.2,193.6 L478.0,194.4 L479.8,195.3 L481.6,196.1 L483.4,197.0 L485.2,197.8 L487.1,198.6 L488.9,199.4 L490.8,200.2 L492.7,200.9 L494.6,201.5 L496.5,202.1 L498.4,202.7 L500.4,203.2 L502.3,203.6 L504.3,204.1 L506.3,204.4 L508.2,204.8 L510.2,205.1 L512.2,205.5 L514.2,205.7 L516.2,206.0 L518.2,206.3 L520.2,206.5 L522.2,206.8 L524.2,207.0 L526.2,207.2 L528.2,207.4 L530.2,207.6 L532.2,207.8 L534.2,208.0 L536.2,208.1 L538.2,208.3 L540.2,208.4 L542.2,208.6 L544.3,208.7 L546.3,208.8 L548.3,208.9 L550.3,209.0 L552.3,209.1 L554.3,209.2 L556.3,209.3 L558.3,209.4 L560.3,209.5 L562.3,209.6 L564.3,209.6 L566.3,209.7 L568.3,209.8 L570.4,209.8 L572.4,209.9 L574.4,210.0 L576.4,210.0 L578.4,210.1 L580.4,210.1 L582.4,210.2 L584.4,210.2 L586.4,210.3 L588.4,210.3 L590.5,210.4 L592.5,210.4 L594.5,210.5 L596.5,210.5 L598.5,210.5 L600.5,210.6 L602.5,210.6 L604.5,210.6 L606.5,210.6 L608.6,210.6 L610.6,210.6 L612.6,210.6 L614.6,210.5 L616.6,210.5 L618.6,210.4 L620.6,210.4 L622.7,210.3 L624.7,210.2 L626.7,210.1 L628.7,210.0 L630.7,209.9 L632.7,209.8 L634.8,209.7 L636.8,209.6 L638.8,209.5 L640.8,209.5 L642.8,209.5 L644.8,209.6 L646.8,209.7 L648.8,209.9 L650.8,210.2 L652.7,210.6 L654.7,211.0 L654.7,211.0 L653.4,212.4 L651.9,213.8 L650.3,214.9 L648.6,216.0 L646.8,217.0 L645.0,217.8 L643.1,218.6 L641.3,219.3 L639.4,220.0 L637.4,220.5 L635.5,221.1 L633.6,221.5 L631.6,222.0 L629.7,222.3 L627.7,222.7 L625.7,223.0 L623.7,223.3 L621.7,223.6 L619.7,223.8 L617.7,224.1 L615.7,224.3 L613.7,224.6 L611.7,224.8 L609.7,225.1 L607.7,225.3 L605.7,225.5 L603.7,225.8 L601.7,226.0 L599.7,226.2 L597.8,226.4 L595.8,226.7 L593.8,226.9 L591.8,227.1 L589.8,227.3 L587.8,227.5 L585.8,227.7 L583.8,227.9 L581.8,228.1 L579.8,228.3 L577.8,228.5 L575.8,228.7 L573.8,228.9 L571.8,229.1 L569.8,229.3 L567.8,229.5 L565.8,229.7 L563.8,229.9 L561.8,230.1 L559.8,230.3 L557.8,230.4 L555.8,230.6 L553.8,230.8 L551.8,231.0 L549.8,231.2 L547.8,231.3 L545.8,231.5 L543.8,231.7 L541.8,231.9 L539.8,232.1 L537.8,232.2 L535.8,232.4 L533.8,232.6 L531.8,232.7 L529.8,232.9 L527.8,233.1 L525.8,233.3 L523.8,233.4 L521.8,233.6 L519.8,233.8 L517.8,233.9 L515.8,234.1 L513.8,234.3 L511.8,234.4 L509.8,234.6 L507.8,234.8 L505.8,234.9 L503.8,235.1 L501.8,235.3 L499.8,235.4 L497.8,235.6 L495.8,235.8 L493.8,235.9 L491.8,236.1 L489.8,236.3 L487.8,236.4 L485.8,236.6 L483.8,236.8 L481.8,237.0 L479.8,237.1 L477.8,237.3 L475.8,237.5 L473.8,237.6 L471.8,237.8 L469.8,238.0 L467.8,238.1 L465.8,238.3 L463.8,238.4 L461.8,238.6 L459.8,238.8 L457.8,238.9 L455.8,239.1 L453.8,239.3 L451.8,239.4 L449.8,239.6 L447.8,239.7 L445.8,239.9 L443.8,240.0 L441.8,240.2 L439.8,240.3 L437.7,240.5 L435.7,240.6 L433.7,240.8 L431.7,240.9 L429.7,241.0 L427.7,241.2 L425.7,241.3 L423.7,241.4 L421.7,241.6 L419.7,241.7 L417.7,241.8 L415.7,242.0 L413.7,242.1 L411.7,242.2 L409.7,242.3 L407.7,242.5 L405.7,242.6 L403.7,242.7 L401.7,242.8 L399.7,243.0 L397.6,243.1 L395.6,243.3 L393.6,243.4 L391.6,243.6 L389.6,243.7 L387.6,243.9 L385.6,244.1 L383.7,244.3 L381.7,244.5 L379.7,244.7 L377.7,244.9 L375.7,245.2 L373.7,245.4 L371.7,245.7 L369.7,246.0 L367.7,246.2 L365.8,246.6 L363.8,246.9 L361.8,247.2 L359.8,247.6 L357.8,247.9 L355.9,248.3 L353.9,248.7 L351.9,249.2 L350.0,249.6 L348.0,250.1 L346.1,250.6 L344.1,251.0 L342.2,251.6 L340.2,252.1 L338.3,252.6 L336.4,253.2 L334.4,253.7 L332.5,254.3 L330.6,254.9 L328.7,255.5 L326.8,256.2 L324.9,256.8 L323.0,257.5 L321.1,258.1 L319.2,258.8 L317.3,259.5 L315.5,260.2 L313.6,260.9 L311.7,261.7 L309.9,262.4 L308.0,263.1 L306.2,263.9 L304.3,264.7 L302.5,265.5 L300.6,266.3 L298.8,267.1 L296.9,267.9 L295.0,268.7 L293.2,269.4 L291.3,270.2 L289.4,270.8 L287.5,271.5 L285.5,272.0 L283.6,272.5 L281.6,272.9 L279.6,273.1 L277.6,273.3 L275.6,273.3 L273.6,273.2 L271.7,273.0 L269.7,272.7 L267.8,272.2 L265.9,271.5 L264.1,270.8 L262.3,269.8 L260.6,268.8 L258.9,267.7 L257.2,266.6 L255.6,265.4 L253.9,264.1 L252.3,262.9 L250.7,261.7 L249.1,260.5 L247.4,259.4 L245.8,258.3 L244.1,257.2 L242.4,256.3 L240.6,255.4 L238.8,254.6 L236.9,253.9 L235.0,253.3 L233.1,252.7 L231.2,252.2 L229.2,251.7 L227.2,251.2 L225.3,250.7 L223.3,250.2 L221.4,249.7 L219.4,249.3 L217.4,248.9 L215.4,248.5 L213.5,248.1 L211.5,247.8 L209.5,247.4 L207.5,247.1 L205.5,246.8 L203.6,246.5 L201.6,246.2 L199.6,246.0 L197.6,245.7 L195.6,245.5 L193.6,245.3 L191.6,245.1 L189.6,244.9 L187.6,244.7 L185.6,244.5 L183.6,244.3 L181.6,244.2 L179.6,244.0 L177.6,243.9 L175.6,243.7 L173.6,243.6 L171.6,243.4 L169.6,243.3 L167.6,243.1 L165.6,243.0 L163.6,242.8 L161.6,242.7 L159.6,242.5 L157.6,242.4 L155.6,242.2 L153.6,242.1 L151.6,241.9 L149.6,241.7 L147.6,241.5 L145.6,241.3 L143.6,241.1 L141.6,240.9 L139.6,240.7 L137.6,240.5 L135.6,240.2" fill="none" stroke="#7c7c00" stroke-width="2.35" stroke-linejoin="round" stroke-linecap="round"/>
<line x1="153.5" y1="40.4" x2="196" y2="40.4" stroke="#000000" stroke-width="2.6"/>
<text transform="translate(199.8,46.5) scale(1.095,1)" class="lg" xml:space="preserve">ZnO</text>
<line x1="153.5" y1="64.5" x2="196" y2="64.5" stroke="#ee0000" stroke-width="2.6"/>
<text transform="translate(199.8,70.5) scale(1.095,1)" class="lg" xml:space="preserve">CS@ZnO(0.5:1)</text>
<line x1="153.5" y1="88.5" x2="196" y2="88.5" stroke="#0000e0" stroke-width="2.6"/>
<text transform="translate(199.8,94.6) scale(1.095,1)" class="lg" xml:space="preserve">CS@ZnO (0.75:1)</text>
<line x1="153.5" y1="112.6" x2="196" y2="112.6" stroke="#007b7b" stroke-width="2.6"/>
<text transform="translate(199.8,118.7) scale(1.095,1)" class="lg" xml:space="preserve">CS@ZnO(1:1)</text>
<line x1="153.5" y1="136.6" x2="196" y2="136.6" stroke="#f000f0" stroke-width="2.6"/>
<text transform="translate(199.8,142.7) scale(1.095,1)" class="lg" xml:space="preserve">CS@ZnO(1.25:1)</text>
<line x1="153.5" y1="160.7" x2="196" y2="160.7" stroke="#7c7c00" stroke-width="2.6"/>
<text transform="translate(199.8,166.8) scale(1.095,1)" class="lg" xml:space="preserve">CS@ZnO(2.5:1)</text>
<text x="305.6" y="482.3" class="ax" xml:space="preserve">Potential  (V)</text>
<text transform="translate(22.5,286.4) rotate(-90)" x="0" y="0" class="ax2" xml:space="preserve">Current  (A)</text>
</svg>
</body></html>
